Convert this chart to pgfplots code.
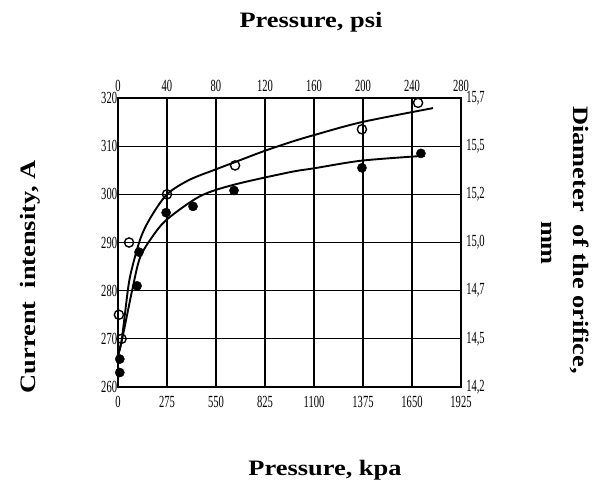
\documentclass[border=0pt]{standalone}
\usepackage{pgfplots}
\pgfplotsset{compat=1.18}
\usepackage{graphicx}
\usepackage{fontspec}
\setmainfont{Liberation Serif}

\newcommand{\lab}[1]{\scalebox{1.2}[1]{\fontsize{22}{24}\selectfont\bfseries #1}}

\pgfplotsset{
  tcklbl/.style={font=\fontsize{17}{17}\selectfont, xscale=0.62},
}

\begin{document}
\begin{tikzpicture}
\useasboundingbox (-118pt,-97pt) rectangle (474pt,387pt);

% main axis: kPa vs current intensity
\begin{axis}[
  at={(0,0)}, anchor=south west, scale only axis,
  width=343pt, height=289pt,
  xmin=0, xmax=1925, ymin=260, ymax=320,
  xtick={0,275,550,825,1100,1375,1650,1925},
  xticklabels={0,275,550,825,1100,1375,1650,1925},
  ytick={260,270,280,290,300,310,320},
  yticklabels={260,270,280,290,300,310,320},
  grid=major, grid style={black, line width=1.3pt},
  axis line style={black, line width=1.6pt},
  major tick length=0pt,
  xticklabel style={tcklbl, yshift=-6pt},
  yticklabel style={tcklbl, xshift=2pt},
]
% upper curve (open circles)
\addplot[black, line width=1.9pt, smooth, tension=0.5] coordinates {
  (0,266.5) (20,269.5) (40,275.5) (67,282.8) (123,290.5) (180,295)
  (275,300) (400,303) (550,305.2) (657,306.7) (814,308.9) (965,310.8)
  (1100,312.3) (1369,315) (1768,317.9)};
% lower curve (filled circles)
\addplot[black, line width=1.9pt, smooth, tension=0.5] coordinates {
  (0,266.5) (28,270.8) (79,280) (123,286.8) (191,291.1) (275,294.8)
  (460,299.6) (651,302) (965,304.6) (1100,305.4) (1369,307) (1720,308)};
% open circles
\addplot[only marks, mark=o, mark size=4.6pt, mark options={fill=white, line width=1.4pt}] coordinates {
  (5,275) (20,270) (62,290) (275,300) (657,306) (1369,313.5) (1684,319)};
% filled circles
\addplot[only marks, mark=*, mark size=4.6pt, mark options={fill=black, draw=black}] coordinates {
  (10,263) (10,265.8) (107,281) (118,288) (270,296.2) (421,297.5)
  (651,300.8) (1369,305.5) (1700,308.5)};
\end{axis}

% secondary scales: psi on top, orifice diameter on right
\begin{axis}[
  at={(0,0)}, anchor=south west, scale only axis,
  width=343pt, height=289pt,
  xmin=0, xmax=280, ymin=260, ymax=320,
  xtick={0,40,80,120,160,200,240,280},
  xticklabels={0,40,80,120,160,200,240,280},
  ytick={260,270,280,290,300,310,320},
  yticklabels={{14,2},{14,5},{14,7},{15,0},{15,2},{15,5},{15,7}},
  xticklabel pos=right, yticklabel pos=right,
  axis line style={draw=none},
  major tick length=0pt,
  xticklabel style={tcklbl, yshift=3pt},
  yticklabel style={tcklbl, xshift=5pt},
]
\end{axis}

\node at (193pt,365pt) {\lab{Pressure, psi}};
\node at (207pt,-83pt) {\lab{Pressure, kpa}};
\node[rotate=90] at (-88pt,110pt) {\lab{Current\ \ intensity, A}};
\node[rotate=-90] at (462pt,147pt) {\lab{Diameter\ \ of the orifice,}};
\node[rotate=-90] at (429pt,144pt) {\lab{mm}};
\end{tikzpicture}
\end{document}
